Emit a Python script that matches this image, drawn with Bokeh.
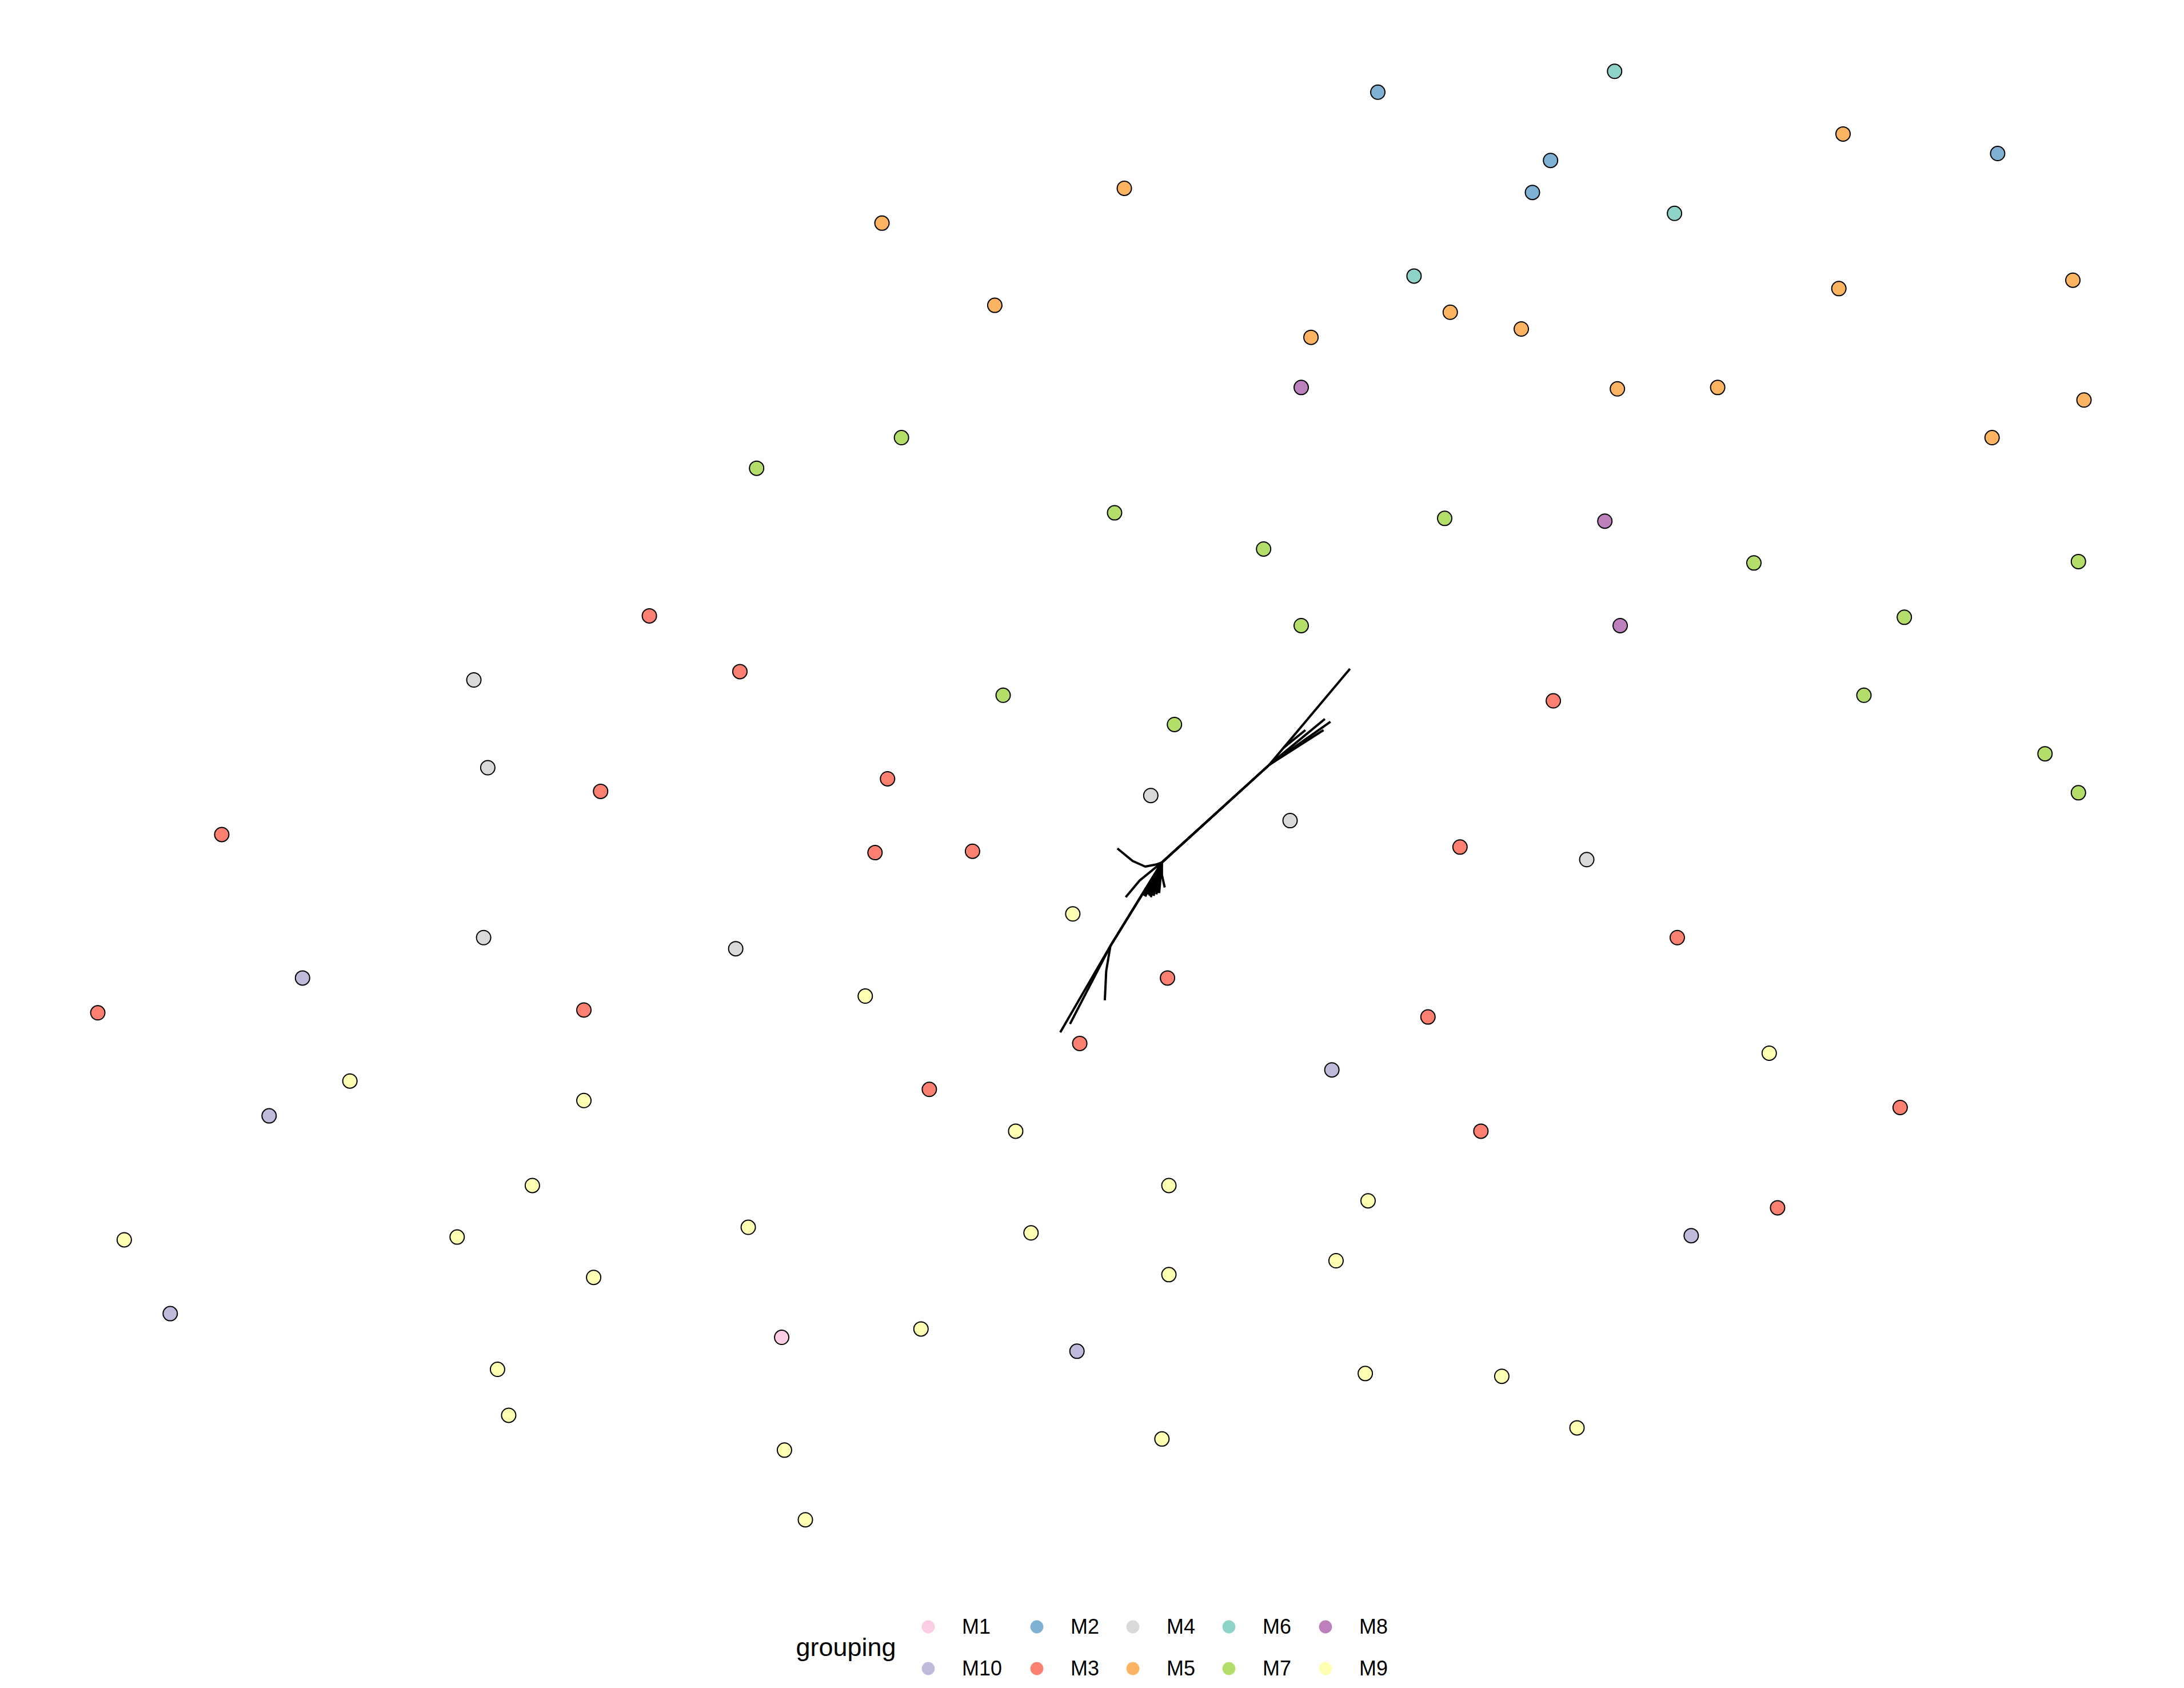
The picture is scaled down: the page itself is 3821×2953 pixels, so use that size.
from bokeh.plotting import figure
from bokeh.models import ColumnDataSource, Range1d, Legend, LegendItem, Label
from bokeh.embed import file_html
from bokeh.resources import INLINE

# Sample scores on the two ordination axes, with their module grouping
dim1 = [1.89, 3.59, 5.23, 6.34, 3.13, 3.00, 4.02, 0.07, -1.67, -0.86,
        2.15, 2.41, 2.92, 1.41, 5.20, 6.88, 1.34, 3.61, 4.33, 6.96,
        6.30, -2.57, -1.53, 0.00, 1.07, 2.37, 3.52, 4.59, 6.92, 1.34,
        3.63, 5.67, -3.34, -2.69, -4.60, -0.80, 0.43, 3.15, 5.38, 6.68,
        6.92, -4.50, -3.69, -1.63, 0.26, 1.26, -6.41, -1.72, -1.02, 2.48,
        3.39, -0.30, -4.53, -2.72, 4.04, -5.83, 0.38, -1.79, -7.30, -3.81,
        2.25, -0.25, 4.70, 1.56, -5.49, -1.33, -3.81, -6.07, -0.71, 2.63,
        5.64, -4.18, 0.39, 1.82, 4.76, -7.11, -4.72, -2.63, -0.60, 4.14,
        -3.74, 0.39, 1.59, -6.78, -2.39, -1.39, -0.27, -4.43, 1.80, 2.78,
        -4.35, 3.32, -2.37, 0.34, -2.22]
dim2 = [5.54, 5.69, 5.24, 5.10, 5.05, 4.82, 4.67, 4.85, 4.60, 4.01,
        4.22, 3.96, 3.84, 3.78, 4.13, 4.19, 3.42, 3.41, 3.42, 3.33,
        3.06, 2.84, 3.06, 2.52, 2.26, 2.48, 2.46, 2.16, 2.17, 1.71,
        1.71, 1.77, 1.78, 1.38, 1.32, 1.21, 1.00, 1.17, 1.21, 0.79,
        0.51, 0.69, 0.52, 0.61, 0.49, 0.31, 0.21, 0.08, 0.09, 0.12,
        0.03, -0.36, -0.53, -0.61, -0.53, -0.82, -0.82, -0.95, -1.07, -1.05,
        -1.10, -1.29, -1.36, -1.48, -1.56, -1.62, -1.70, -1.81, -1.92, -1.92,
        -1.75, -2.31, -2.31, -2.42, -2.47, -2.70, -2.68, -2.61, -2.65, -2.67,
        -2.97, -2.95, -2.85, -3.23, -3.40, -3.34, -3.50, -3.63, -3.66, -3.68,
        -3.96, -4.05, -4.21, -4.13, -4.71]
grouping = ["M2", "M6", "M5", "M2", "M2", "M2", "M6", "M5", "M5", "M5",
            "M6", "M5", "M5", "M5", "M5", "M5", "M8", "M5", "M5", "M5",
            "M5", "M7", "M7", "M7", "M7", "M7", "M8", "M7", "M7", "M7",
            "M8", "M7", "M3", "M3", "M4", "M7", "M7", "M3", "M7", "M7",
            "M7", "M4", "M3", "M3", "M4", "M4", "M3", "M3", "M3", "M3",
            "M4", "M9", "M4", "M4", "M3", "M10", "M3", "M9", "M3", "M3",
            "M3", "M3", "M9", "M10", "M9", "M3", "M9", "M10", "M9", "M3",
            "M3", "M9", "M9", "M9", "M3", "M9", "M9", "M9", "M9", "M10",
            "M9", "M9", "M9", "M10", "M1", "M9", "M10", "M9", "M9", "M9",
            "M9", "M9", "M9", "M9", "M9"]

# Fitted trajectories radiating from the common origin
traj_x = [
    [0.34, 1.11, 1.69],
    [0.34, 1.11, 1.51],
    [0.34, 1.11, 1.55],
    [0.34, 1.11, 1.50],
    [1.21, 1.37],
    [0.34, 0.30, 0.22, 0.13, 0.02],
    [0.34, 0.18, 0.08],
    [0.34, -0.03, -0.39],
    [0.34, -0.03, -0.32],
    [0.34, -0.03, -0.06, -0.07],
    [0.34, 0.21],
    [0.34, 0.22],
    [0.34, 0.24],
    [0.34, 0.25],
    [0.34, 0.26],
    [0.34, 0.28],
    [0.34, 0.30],
    [0.34, 0.31],
    [0.34, 0.32],
    [0.34, 0.34, 0.36],
]
traj_y = [
    [0.01, 0.71, 1.40],
    [0.01, 0.71, 1.04],
    [0.01, 0.71, 1.02],
    [0.01, 0.71, 0.96],
    [0.83, 0.96],
    [0.01, -0.005, -0.02, 0.02, 0.11],
    [0.01, -0.12, -0.24],
    [0.01, -0.59, -1.21],
    [0.01, -0.59, -1.15],
    [0.01, -0.59, -0.77, -0.98],
    [0.01, -0.23],
    [0.01, -0.235],
    [0.01, -0.22],
    [0.01, -0.23],
    [0.01, -0.24],
    [0.01, -0.23],
    [0.01, -0.22],
    [0.01, -0.21],
    [0.01, -0.21],
    [0.01, -0.08, -0.17],
]

# Legend layout: ggplot-style columns, filled top to bottom
legend_columns = [["M1", "M10"], ["M2", "M3"], ["M4", "M5"], ["M6", "M7"], ["M8", "M9"]]
palette = {
    "M1": "#FCCDE5", "M10": "#BEBADA", "M2": "#80B1D3", "M3": "#FB8072",
    "M4": "#D9D9D9", "M5": "#FDB462", "M6": "#8DD3C7", "M7": "#B3DE69",
    "M8": "#BC80BD", "M9": "#FFFFB3",
}

W, H = 3821, 2953
p = figure(width=W, height=H, output_backend="svg", toolbar_location=None,
           x_range=Range1d(-8.00, 7.68), y_range=Range1d(-5.92, 6.20),
           x_axis_location=None, y_axis_location=None, min_border=0)
p.grid.visible = False
p.outline_line_color = None
p.background_fill_color = "white"
p.border_fill_color = "white"

p.multi_line(xs=traj_x, ys=traj_y, line_color="black", line_width=4)

# Outline-free copies of each group, used as legend keys
key_renderers = {}
for g, col in palette.items():
    idx = [i for i, v in enumerate(grouping) if v == g]
    src = ColumnDataSource(dict(x=[dim1[i] for i in idx], y=[dim2[i] for i in idx]))
    key_renderers[g] = p.scatter("x", "y", source=src, size=23,
                                 fill_color=col, line_color=None)

src = ColumnDataSource(dict(x=dim1, y=dim2, g=grouping,
                            c=[palette[g] for g in grouping]))
p.scatter("x", "y", source=src, size=25, fill_color="c",
          line_color="black", line_width=2)

col_left = [1595, 1785, 1953, 2121, 2290]
for left, cols in zip(col_left, legend_columns):
    leg = Legend(items=[LegendItem(label=g, renderers=[key_renderers[g]]) for g in cols],
                 orientation="vertical", location=(left, 6),
                 glyph_width=57, glyph_height=57, label_standoff=31, spacing=16,
                 padding=0, margin=0, border_line_color=None,
                 background_fill_alpha=0,
                 label_text_font="Liberation Sans", label_text_font_size="36px",
                 label_text_color="black")
    p.add_layout(leg)

p.add_layout(Label(x=1392, y=72, x_units="screen", y_units="screen",
                   text="grouping", text_font="Liberation Sans",
                   text_font_size="45px", text_baseline="alphabetic",
                   text_color="black"))

open("out.html", "w").write(file_html(p, INLINE))
